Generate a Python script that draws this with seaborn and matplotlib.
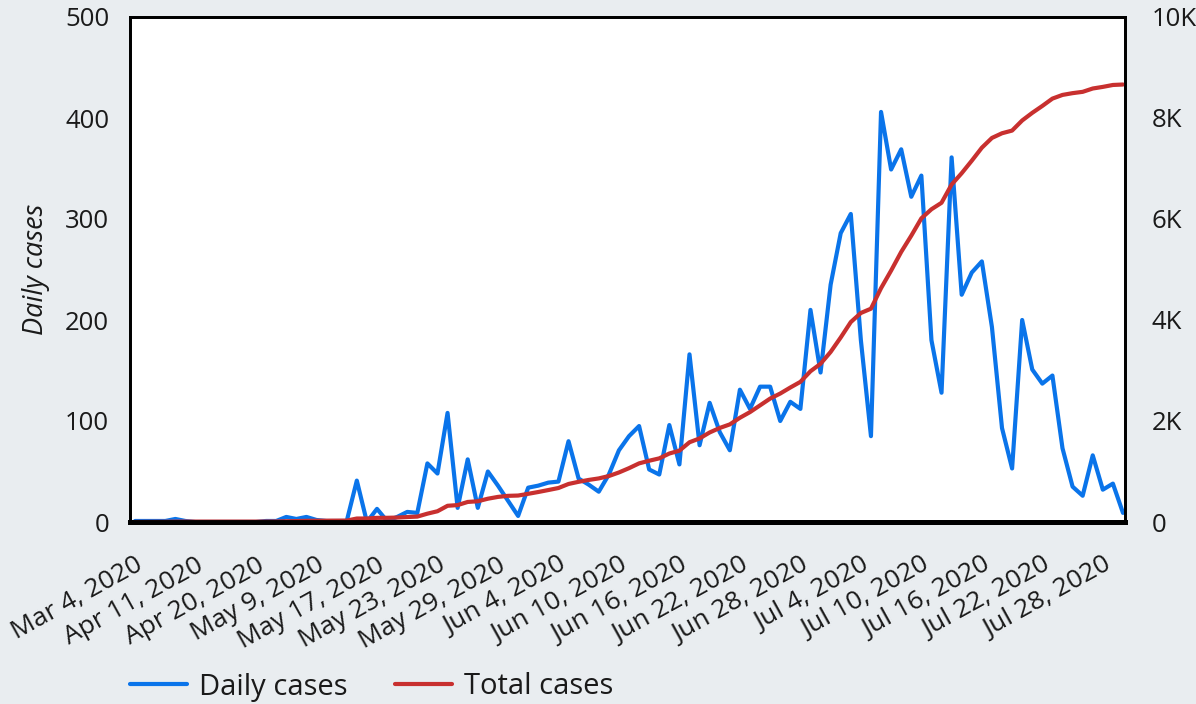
import numpy as np
import pandas as pd
import seaborn as sns
import matplotlib.pyplot as plt
from matplotlib.ticker import FuncFormatter

# daily new cases, one value per reported day
daily = [1, 1, 1, 1, 3, 1, 0, 0, 0, 0, 0, 0, 0, 1, 1, 5, 3, 5, 2, 1,
         1, 1, 41, 0, 13, 1, 5, 10, 9, 58, 48, 108, 14, 62, 14, 50, 36, 21, 6, 34,
         36, 39, 40, 80, 43, 37, 30, 47, 71, 85, 95, 52, 47, 96, 57, 166, 76, 118, 89, 71,
         131, 112, 134, 134, 100, 119, 112, 210, 148, 235, 286, 305, 180, 85, 406, 349, 369, 322, 343, 180,
         128, 361, 225, 247, 258, 193, 93, 53, 200, 151, 137, 145, 73, 35, 26, 66, 32, 38, 9]

# running total of cases
total = [1, 2, 3, 4, 7, 8, 8, 8, 8, 8, 8, 8, 8, 9, 10, 15, 18, 23, 25, 26,
         27, 28, 69, 69, 82, 83, 88, 98, 107, 165, 213, 321, 335, 397, 411, 461, 497, 518, 524, 558,
         594, 633, 673, 753, 796, 833, 863, 910, 981, 1066, 1161, 1213, 1260, 1356, 1413, 1579, 1655, 1773, 1862, 1933,
         2064, 2176, 2310, 2444, 2544, 2663, 2775, 2985, 3133, 3368, 3654, 3959, 4139, 4224, 4630, 4979, 5348, 5670, 6013, 6193,
         6321, 6682, 6907, 7154, 7412, 7605, 7698, 7751, 7951, 8102, 8239, 8384, 8457, 8492, 8518, 8584, 8616, 8654, 8663]

tick_labels = ['Mar 4, 2020', 'Apr 11, 2020', 'Apr 20, 2020', 'May 9, 2020',
               'May 17, 2020', 'May 23, 2020', 'May 29, 2020', 'Jun 4, 2020',
               'Jun 10, 2020', 'Jun 16, 2020', 'Jun 22, 2020', 'Jun 28, 2020',
               'Jul 4, 2020', 'Jul 10, 2020', 'Jul 16, 2020', 'Jul 22, 2020',
               'Jul 28, 2020']

df = pd.DataFrame({'day': np.arange(len(daily)), 'daily': daily, 'total': total})

sns.set_style('white')
plt.rcParams['font.family'] = ['Open Sans', 'DejaVu Sans']

bg = '#e9edf0'
blue = '#0a74ea'
red = '#c8302f'
ink = '#1a1a1a'

fig = plt.figure(figsize=(11.96, 7.04), dpi=100, facecolor=bg)
ax = fig.add_axes([130 / 1196, 1 - 522 / 704, 995 / 1196, 505 / 704])
ax.set_facecolor('white')
ax2 = ax.twinx()

sns.lineplot(data=df, x='day', y='daily', ax=ax, color=blue, linewidth=3,
             label='Daily cases', legend=False)
sns.lineplot(data=df, x='day', y='total', ax=ax2, color=red, linewidth=3,
             label='Total cases', legend=False)

ax.set_xlim(-0.5, 98.2)
ax.set_ylim(0, 500)
ax2.set_ylim(0, 10000)
ax.set_yticks(np.arange(0, 501, 100))
ax2.set_yticks(np.arange(0, 10001, 2000))
ax2.yaxis.set_major_formatter(FuncFormatter(lambda v, p: '0' if v == 0 else f'{int(v / 1000)}K'))

ax.set_xticks(np.arange(0, len(daily), 6))
ax.set_xticklabels(tick_labels, rotation=29, ha='right', rotation_mode='anchor')

ax.tick_params(axis='x', length=0, pad=22, labelsize=19, labelcolor=ink)
ax.tick_params(axis='y', length=0, pad=15, labelsize=18.5, labelcolor=ink)
ax2.tick_params(axis='y', length=0, pad=19, labelsize=18.5, labelcolor=ink)

ax.set_xlabel('')
ax.set_ylabel('Daily cases', fontsize=19.5, fontstyle='italic', color=ink, labelpad=11)
ax2.set_ylabel('')

for a in (ax, ax2):
    for s in a.spines.values():
        s.set_color('black')
        s.set_linewidth(2)
ax.spines['bottom'].set_linewidth(3.5)
ax2.spines['bottom'].set_linewidth(3.5)

h1, l1 = ax.get_legend_handles_labels()
h2, l2 = ax2.get_legend_handles_labels()
fig.legend(h1 + h2, l1 + l2, loc='center left', bbox_to_anchor=(104 / 1196, 1 - 687 / 704),
           ncol=2, frameon=False, fontsize=21, handlelength=1.95, columnspacing=1.65,
           handletextpad=0.4, labelcolor=ink)

fig.savefig('out.png', dpi=100, facecolor=bg)
